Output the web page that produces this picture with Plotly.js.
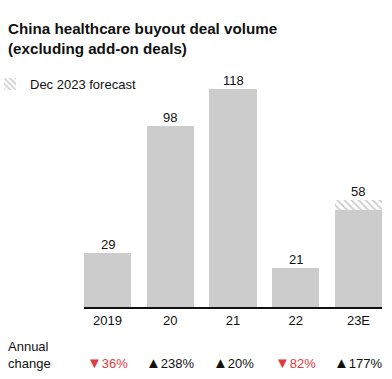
<!DOCTYPE html>
<html>
<head>
<meta charset="utf-8">
<script src="https://cdn.plot.ly/plotly-3.0.1.min.js"></script>
<style>html,body{margin:0;padding:0;background:#fff}#chart{width:392px;height:379px}</style>
</head>
<body>
<div id="chart"></div>
<script>
// Data
var categories = ['2019', '20', '21', '22', '23E'];
var actualValues = [29, 98, 118, 21, 52.5];
var forecastValues = [0, 0, 0, 0, 5.5];
var totalLabels = [29, 98, 118, 21, 58];
var annualChange = [-36, 238, 20, -82, 177];

var FONT = '"Liberation Sans", Arial, sans-serif';

var traces = [
  {
    type: 'bar', x: categories, y: actualValues, name: 'Actual',
    marker: {color: '#cccccc', line: {width: 0}},
    showlegend: false, hoverinfo: 'skip'
  },
  {
    type: 'bar', x: categories, y: forecastValues, name: 'Dec 2023 forecast',
    marker: {color: '#ffffff', line: {width: 0},
      pattern: {shape: '\\', fgcolor: '#cfcfcf', bgcolor: '#ffffff', size: 5, solidity: 0.4}},
    showlegend: true, hoverinfo: 'skip'
  }
];

var annotations = [];
categories.forEach(function (c, i) {
  annotations.push({
    x: i, y: totalLabels[i], xref: 'x', yref: 'y', text: String(totalLabels[i]),
    showarrow: false, yanchor: 'bottom', yshift: -1,
    font: {family: FONT, size: 13, color: '#111'}
  });
  var v = annualChange[i];
  annotations.push({
    x: i, xref: 'x', y: -0.233, yref: 'paper', yanchor: 'middle',
    text: '<span style="font-size:15px">' + (v < 0 ? '▼' : '▲') + '</span>' + Math.abs(v) + '%',
    showarrow: false,
    font: {family: FONT, size: 13, color: v < 0 ? '#e03a3e' : '#111'}
  });
});
annotations.push({
  xref: 'paper', x: -0.262, xanchor: 'left', yref: 'paper', y: -0.2, yanchor: 'middle',
  align: 'left', text: 'Annual<br>change', showarrow: false,
  font: {family: FONT, size: 13, color: '#111'}
});

var layout = {
  width: 392, height: 379,
  margin: {l: 84, r: 10, t: 67, b: 72, autoexpand: false},
  paper_bgcolor: '#fff', plot_bgcolor: '#fff',
  barmode: 'stack', bargap: 0.25,
  font: {family: FONT, size: 13, color: '#111'},
  title: {
    text: '<b>China healthcare buyout deal volume</b><br><b>(excluding add-on deals)</b>',
    xref: 'container', x: 8 / 392, xanchor: 'left',
    yref: 'container', y: 1 - 34 / 379, yanchor: 'top',
    font: {family: FONT, size: 15.2, color: '#111'}
  },
  showlegend: true,
  legend: {
    xref: 'container', yref: 'container', x: 0, y: 1 - 69 / 379,
    xanchor: 'left', yanchor: 'top', bgcolor: 'rgba(0,0,0,0)',
    indentation: -10,
    font: {family: FONT, size: 13, color: '#111'}
  },
  xaxis: {
    type: 'category', range: [-0.375, 4.375], fixedrange: true,
    showline: true, linecolor: '#111', linewidth: 2, ticks: '',
    showgrid: false, zeroline: false,
    tickfont: {family: FONT, size: 13, color: '#111'}
  },
  yaxis: {
    range: [0, 130], visible: false, showgrid: false, zeroline: false, fixedrange: true
  },
  annotations: annotations
};

Plotly.newPlot('chart', traces, layout, {displayModeBar: false, staticPlot: true});
</script>
</body>
</html>
